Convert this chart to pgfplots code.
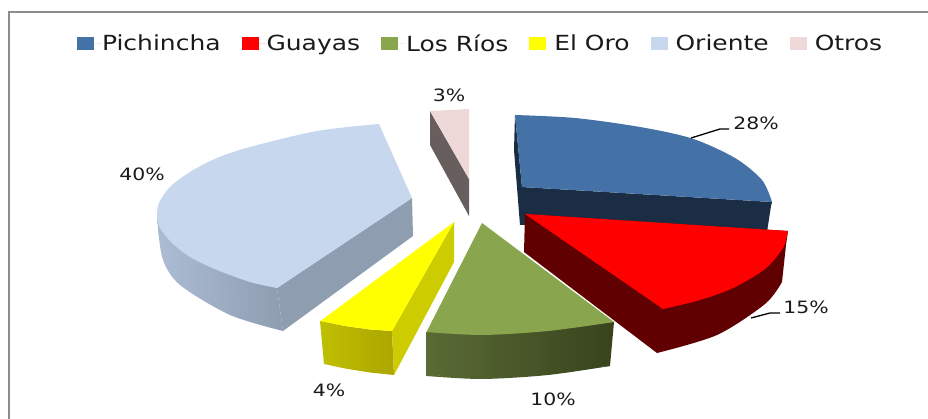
\documentclass[border=0pt]{standalone}
\usepackage{fontspec}
\setmainfont[FakeStretch=1.2]{DejaVu Sans}
\usepackage{pgfplots}
\pgfplotsset{compat=1.18}
\definecolor{pich}{HTML}{4471A6}
\definecolor{pichd}{HTML}{1B2D45}
\definecolor{guay}{HTML}{FF0000}
\definecolor{guayd}{HTML}{600000}
\definecolor{rios}{HTML}{89A54E}
\definecolor{riosa}{HTML}{5A6B35}
\definecolor{riosb}{HTML}{38431D}
\definecolor{oro}{HTML}{FFFF00}
\definecolor{orod}{HTML}{CCCC00}
\definecolor{oroa}{HTML}{BFBF00}
\definecolor{orob}{HTML}{ACA600}
\definecolor{ori}{HTML}{C6D7EE}
\definecolor{orid}{HTML}{8E9DB0}
\definecolor{oria}{HTML}{ACBCD3}
\definecolor{otr}{HTML}{EED9D8}
\definecolor{otrd}{HTML}{675E5D}
\definecolor{txt}{HTML}{1A1A1A}
\begin{document}
\begin{tikzpicture}
\useasboundingbox (0,0) rectangle (928pt,419pt);
\begin{axis}[
  at={(0,0)},anchor=south west,
  scale only axis,width=928pt,height=419pt,
  xmin=0,xmax=928,ymin=0,ymax=419,y dir=reverse,
  hide axis,clip=true,
  legend columns=6,
  legend cell align=left,
  legend image code/.code={
    \fill[#1] (0pt,-6.5pt) rectangle (17pt,6.5pt);
    \path (0pt,0pt) rectangle (25pt,0pt);
  },
  legend style={
    at={(axis cs:77,43.5)},anchor=west,draw=none,fill=none,inner sep=0pt,outer sep=0pt,
    font=\fontsize{20.8}{24}\selectfont\color{txt},
    nodes={inner sep=0pt},
    /tikz/every even column/.append style={column sep=21pt},
  },
]
% frame
\addplot[forget plot,draw=black!45,line width=2pt] coordinates {(9,419)(9,12)(928,12)};

% Pichincha
\addplot[forget plot,draw=none,fill=pichd] coordinates {(515,115)(522,187)(772,202)(771,206)(767,232)(525,225)(520,225)(514,150)};
\addplot[forget plot,smooth,draw=none,fill=pich] coordinates {(515,115)(575,118)(640,127)(692,138.5)(735,158)(762,180)(772,202)};
\addplot[draw=none,fill=pich] coordinates {(515,115)(620,140)(772,202)(522,187)};
\addlegendentry{Pichincha}

% Guayas
\addplot[forget plot,draw=none,fill=guayd] coordinates {(525,214)(788,231)(786,245)(782,282)(720,325)(657,353)(524,252)};
\addplot[forget plot,smooth,draw=none,fill=guayd] coordinates {(782,282)(765,304)(717,335)(657,353)};
\addplot[forget plot,smooth,draw=none,fill=guay] coordinates {(788,231)(783,248)(765,269)(733,288)(700,300)(663,309)};
\addplot[draw=none,fill=guay] coordinates {(525,214)(788,231)(725,280)(663,309)};
\addlegendentry{Guayas}

% Los Rios
\addplot[forget plot,draw=none,left color=riosa,right color=riosb] coordinates {(426.5,332)(614,322)(610,366)(520,374)(426.5,376)};
\addplot[forget plot,smooth,draw=none,left color=riosa,right color=riosb] coordinates {(426.5,376)(482,379)(548,375)(610,366)};
\addplot[forget plot,smooth,draw=none,fill=rios] coordinates {(426.5,332)(482,335)(548,331)(614,322)};
\addplot[draw=none,fill=rios] coordinates {(482,223)(614,322)(520,332)(426.5,332)};
\addlegendentry{Los R\'ios}

% El Oro
\addplot[forget plot,draw=none,left color=oroa,right color=orob] coordinates {(320,321)(345,326)(370,329.5)(392,331)(394,375)(370,372.5)(345,368.5)(324,364)};
\addplot[forget plot,draw=none,fill=orod] coordinates {(392,331)(454,222)(454,262)(394,375)};
\addplot[draw=none,fill=oro] coordinates {(320.5,321)(345,326)(370,329.5)(392,331)(454,222)};
\addlegendentry{El Oro}

% Oriente
\addplot[forget plot,draw=none,left color=oria,right color=orid] coordinates {(157,215)(277,288)(283,331)(220,295)(158,228)};
\addplot[forget plot,smooth,draw=none,left color=oria,right color=orid] coordinates {(158,228)(163,260)(180,285)(230,315)(283,331)};
\addplot[forget plot,draw=none,fill=orid] coordinates {(277,288)(412,198)(413,236)(283,331)};
\addplot[forget plot,smooth,draw=none,fill=ori] coordinates {(379,124)(317,131)(250,147)(217,158)(190,172)(170,187)(159,203)(157,216)(160,228)(172,243)(190,257)(217,270)(250,282)(277,288)};
\addplot[draw=none,fill=ori] coordinates {(379,124)(412,198)(277,288)(300,200)};
\addlegendentry{Oriente}

% Otros
\addplot[forget plot,draw=none,fill=otrd] coordinates {(430,111)(469,179)(469,216)(430,145)};
\addplot[draw=none,fill=otr] coordinates {(430,111)(450,110)(469,109)(469,179)};
\addlegendentry{Otros}

% leader lines
\addplot[forget plot,black,line width=1.3pt] coordinates {(691,138)(720,129)(729,129)};
\addplot[forget plot,black,line width=1.3pt] coordinates {(751,318)(770,313)(780,313)};

% percentage labels
\begin{scope}[every node/.style={font=\fontsize{17}{20}\selectfont\color{txt},inner sep=0pt}]
\node at (axis cs:449,95) {3\%};
\node at (axis cs:142,174.5) {40\%};
\node at (axis cs:329,390) {4\%};
\node at (axis cs:553,399) {10\%};
\node at (axis cs:756,123) {28\%};
\node at (axis cs:806,307) {15\%};
\end{scope}
\end{axis}
\end{tikzpicture}
\end{document}
